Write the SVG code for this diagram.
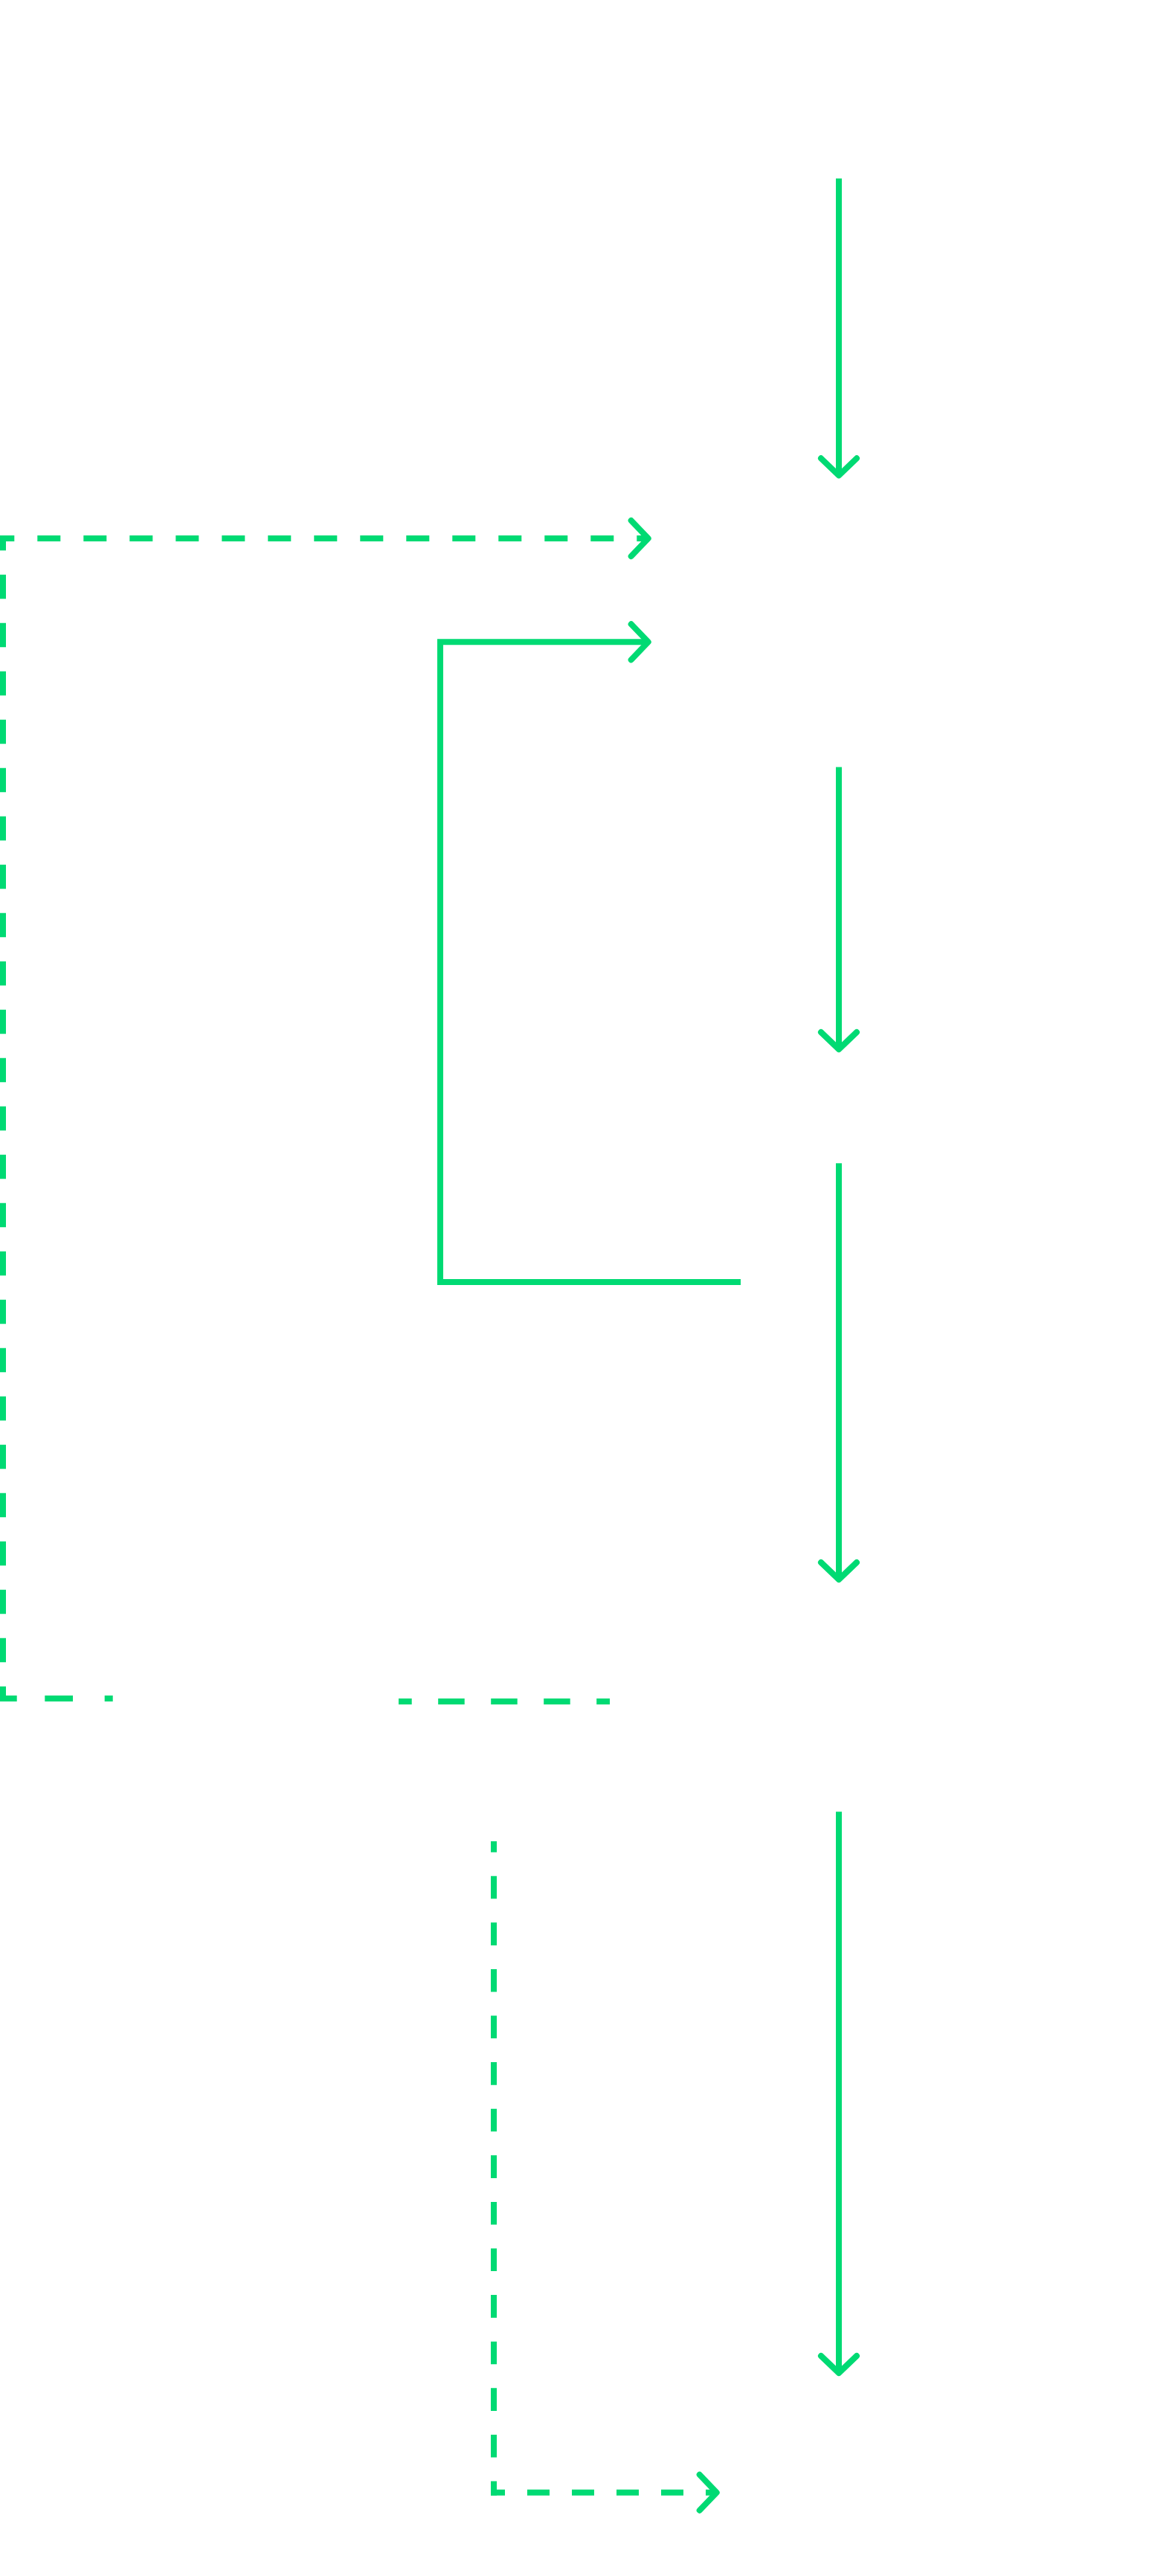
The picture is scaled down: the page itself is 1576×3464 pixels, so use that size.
<svg xmlns="http://www.w3.org/2000/svg" width="1576" height="3464" viewBox="0 0 1576 3464">
  <style>
    .bg { fill: #ffffff; }
    .c { fill: none; stroke: #00da73; stroke-width: 8; stroke-linecap: butt; stroke-linejoin: miter; }
    .head { fill: none; stroke: #00da73; stroke-width: 8; stroke-linecap: round; stroke-linejoin: round; stroke-dasharray: none; }
    .arrow { marker-end: url(#chev); }
  </style>
  <defs>
    <marker id="chev" markerUnits="userSpaceOnUse" orient="auto" refX="0" refY="0" viewBox="-40 -40 60 80" markerWidth="60" markerHeight="80" overflow="visible">
      <path class="head" d="M-23,-24 L0,0 L-23,24"/>
    </marker>
  </defs>
  <rect class="bg" x="0" y="0" width="1576" height="3464"/>
  <g id="connectors">
    <g id="edge-down-1">
      <path class="c arrow" d="M1128,240 V639.3"/>
    </g>
    <g id="edge-down-2">
      <path class="c arrow" d="M1128,1031.6 V1411"/>
    </g>
    <g id="edge-down-3">
      <path class="c arrow" d="M1128,1564.3 V2124"/>
    </g>
    <g id="edge-down-4">
      <path class="c arrow" d="M1128,2436.2 V3191"/>
    </g>
    <g id="edge-loop-solid">
      <path class="c arrow" d="M996,1724 H592 V863.3 H871.7"/>
    </g>
    <g id="edge-loop-dashed">
      <path class="c" d="M0,2284 H151.7" stroke-dasharray="22.7 37.6 37.7 42.7 11 1000"/>
      <path class="c" d="M4,724 V2288" stroke-dasharray="32.5 32.5" stroke-dashoffset="16.3"/>
      <path class="c arrow" d="M0,724 H871.7" stroke-dasharray="31 31" stroke-dashoffset="11.7"/>
    </g>
    <g id="edge-mid-dashed">
      <path class="c" d="M536,2288 H820" stroke-dasharray="35.5 35.5" stroke-dashoffset="17.8"/>
    </g>
    <g id="edge-bottom-dashed">
      <path class="c" d="M664,2476 V3355.7" stroke-dasharray="30.6 32" stroke-dashoffset="15.9"/>
      <path class="c arrow" d="M660,3351.7 H963.7" stroke-dasharray="30 30" stroke-dashoffset="11"/>
    </g>
  </g>
</svg>
